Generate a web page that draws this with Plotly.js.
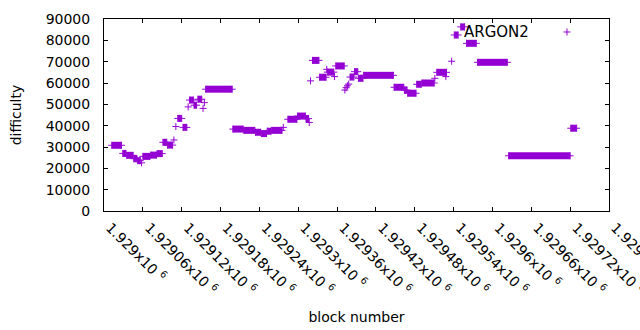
<!DOCTYPE html>
<html><head><meta charset="utf-8">
<script src="https://cdn.plot.ly/plotly-3.0.1.min.js"></script>
<style>html,body{margin:0;padding:0;background:#fff}#chart{width:640px;height:330px}</style>
</head><body><div id="chart"></div>
<script>
// Runs of consecutive blocks sharing one difficulty value
const runStart = [1929012,1929029,1929035,1929046,1929052,1929058,1929060,1929072,1929082,1929091,
  1929098,1929108,1929111,1929114,1929122,1929130,1929132,1929139,1929145,1929153,
  1929155,1929157,1929199,1929216,1929234,1929243,1929252,1929259,1929277,1929284,
  1929299,1929312,1929317,1929319,1929322,1929333,1929344,1929345,1929356,1929358,
  1929372,1929374,1929376,1929378,1929380,1929387,1929393,1929401,1929448,1929464,
  1929469,1929483,1929491,1929511,1929514,1929528,1929537,1929541,1929551,1929560,
  1929577,1929625,1929721];
const runEnd = [1929027,1929034,1929045,1929051,1929056,1929058,1929071,1929081,1929090,1929097,
  1929106,1929108,1929111,1929120,1929128,1929130,1929138,1929143,1929151,1929153,
  1929155,1929198,1929215,1929233,1929242,1929251,1929258,1929275,1929277,1929298,
  1929311,1929316,1929317,1929319,1929332,1929343,1929344,1929355,1929356,1929371,
  1929372,1929374,1929376,1929378,1929386,1929392,1929400,1929447,1929463,1929468,
  1929482,1929490,1929510,1929511,1929529,1929528,1929537,1929547,1929557,1929575,
  1929623,1929720,1929730];
const difficulty = [30800,27000,26100,24500,23600,22600,25600,26200,26900,32200,
  30900,33300,39600,43400,39200,48800,52000,49600,52400,48100,
  50800,57100,38400,37800,36900,36300,37400,37800,39200,43000,
  44500,43300,41500,61000,70600,62700,66400,65100,63000,68000,
  56700,57800,58700,59500,62800,65300,62200,63600,58000,56700,
  55200,59400,60000,62200,65000,63000,70200,82500,86300,78600,
  69700,25900,38800];

const seriesName = 'ARGON2';
const xTickBlocks = [1929000,1929060,1929120,1929180,1929240,1929300,1929360,1929420,
  1929480,1929540,1929600,1929660,1929720,1929780];
const xTickMantissa = ['1.929','1.92906','1.92912','1.92918','1.92924','1.9293','1.92936',
  '1.92942','1.92948','1.92954','1.9296','1.92966','1.92972','1.92978'];
const yTickValues = [0,10000,20000,30000,40000,50000,60000,70000,80000,90000];

const purple = '#9400d3';
const font = {family: 'DejaVu Sans', size: 14, color: '#000'};

const lineX = [], lineY = [], ptX = [], ptY = [];
for (let i = 0; i < runStart.length; i++) {
  if (runEnd[i] > runStart[i]) {
    lineX.push(runStart[i], runEnd[i], null);
    lineY.push(difficulty[i], difficulty[i], null);
    ptX.push(runStart[i], runEnd[i]);
    ptY.push(difficulty[i], difficulty[i]);
  } else {
    ptX.push(runStart[i]);
    ptY.push(difficulty[i]);
  }
}

const traces = [
  {type: 'scatter', mode: 'lines', x: lineX, y: lineY, connectgaps: false,
   line: {color: purple, width: 7}, hoverinfo: 'skip', showlegend: false, name: seriesName},
  {type: 'scatter', mode: 'markers', x: ptX, y: ptY, name: seriesName, showlegend: false,
   marker: {symbol: 'cross-thin', size: 5, color: purple, line: {color: purple, width: 1}}}
];

const axisCommon = {
  showline: true, linecolor: '#000', linewidth: 1, mirror: 'ticks',
  ticks: 'inside', ticklen: 4, tickcolor: '#000', tickwidth: 1,
  showgrid: false, zeroline: false, tickfont: font, automargin: false
};

const layout = {
  width: 640, height: 330,
  margin: {l: 104, r: 31, t: 19, b: 119, pad: 0},
  paper_bgcolor: '#fff', plot_bgcolor: '#fff',
  font: font,
  xaxis: Object.assign({}, axisCommon, {
    range: [xTickBlocks[0], xTickBlocks[xTickBlocks.length - 1]],
    tickmode: 'array', tickvals: xTickBlocks,
    ticktext: xTickMantissa.map(m => m + 'x10 <sup>6</sup>'),
    tickangle: 45, ticklabelshift: 6, ticklabelstandoff: 2, ticklabeloverflow: 'allow',
    title: {text: 'block number', font: font, standoff: 15}
  }),
  yaxis: Object.assign({}, axisCommon, {
    range: [0, 90000], tickmode: 'array', tickvals: yTickValues,
    ticktext: yTickValues.map(String), ticklabelstandoff: 10,
    title: {text: 'difficulty', font: font, standoff: 20}
  }),
  annotations: [{
    xref: 'paper', yref: 'paper', x: 0.8455, y: 0.9323, xanchor: 'right', yanchor: 'middle',
    text: seriesName, showarrow: false, font: {family: 'DejaVu Sans', size: 15, color: '#000'}
  }],
  shapes: [
    {type: 'line', xref: 'paper', yref: 'paper', x0: 0.9168 - 0.0069, x1: 0.9168 + 0.0069,
     y0: 0.9323, y1: 0.9323, line: {color: purple, width: 1}},
    {type: 'line', xref: 'paper', yref: 'paper', x0: 0.9168, x1: 0.9168,
     y0: 0.9323 - 0.0182, y1: 0.9323 + 0.0182, line: {color: purple, width: 1}}
  ]
};

Plotly.newPlot('chart', traces, layout, {displayModeBar: false, staticPlot: true});
</script>
</body></html>
